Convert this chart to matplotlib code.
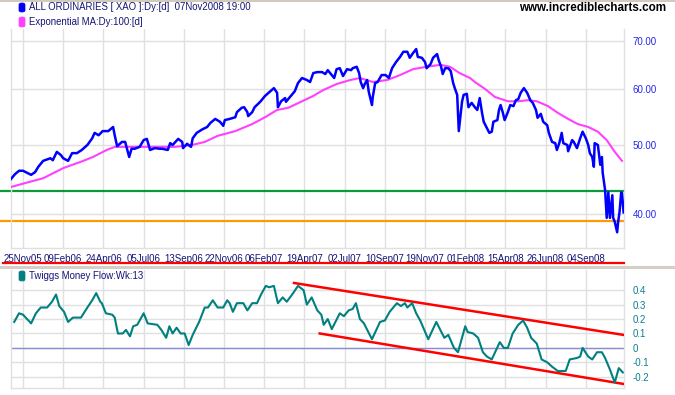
import matplotlib
matplotlib.use("Agg")
import matplotlib.pyplot as plt
from matplotlib.lines import Line2D
from matplotlib.patches import FancyBboxPatch

# ---------------- data ----------------
tick_days = [15, 65, 115, 165, 215, 265, 315, 365, 415, 465, 515, 565, 615, 665, 715]
tick_labels = ["25Nov05", "09Feb06", "24Apr06", "05Jul06", "13Sep06", "22Nov06",
               "06Feb07", "19Apr07", "02Jul07", "10Sep07", "19Nov07", "01Feb08",
               "15Apr08", "26Jun08", "04Sep08"]

price_days = [0, 5, 10, 15, 20, 25, 30, 34, 40, 49, 52, 57, 62, 65, 71, 76, 82, 88, 95, 101,
              104, 109, 114, 121, 127, 129, 132, 138, 142, 147, 150, 154, 160, 165, 169, 173,
              179, 185, 188, 195, 198, 201, 208, 213, 214, 219, 224, 226, 231, 238, 244, 248,
              254, 260, 264, 266, 272, 279, 281, 287, 290, 294, 295, 300, 303, 310, 316, 322,
              327, 331, 332, 336, 341, 342, 347, 353, 357, 362, 368, 372, 376, 381, 387, 391,
              394, 399, 402, 405, 409, 413, 418, 423, 425, 430, 433, 435, 438, 440, 443, 445,
              449, 450, 453, 456, 461, 466, 470, 474, 479, 484, 488, 493, 496, 500, 504, 506,
              511, 515, 517, 522, 525, 530, 532, 535, 537, 540, 544, 547, 550, 552, 555, 556,
              557, 561, 563, 567, 569, 573, 577, 580, 583, 586, 588, 592, 595, 598, 600, 605,
              607, 609, 612, 614, 618, 621, 625, 628, 631, 634, 638, 642, 646, 649, 653, 655,
              659, 662, 667, 669, 673, 677, 679, 682, 685, 687, 692, 693, 698, 700, 704, 708,
              711, 715, 718, 720, 723, 725, 726, 730, 733, 735, 736, 739, 741, 743, 745, 748,
              749, 751, 754, 755, 757, 759, 760, 762]
price_vals = [44.8, 45.5, 46.0, 46.0, 45.7, 45.4, 45.8, 46.6, 47.5, 47.9, 47.6, 48.9, 48.4,
              47.9, 47.5, 48.7, 48.7, 49.2, 50.0, 51.1, 52.0, 51.6, 52.3, 52.3, 53.0, 51.6,
              49.8, 50.5, 50.5, 48.1, 49.4, 49.4, 49.7, 50.8, 51.0, 49.2, 49.5, 49.4, 49.4,
              49.2, 50.3, 50.0, 51.0, 50.5, 49.5, 50.2, 49.7, 51.1, 52.0, 52.6, 53.0, 53.7,
              54.4, 53.9, 53.2, 54.2, 54.4, 54.7, 55.6, 56.4, 56.5, 55.6, 54.9, 55.6, 56.5,
              57.5, 58.6, 59.4, 60.1, 59.2, 56.5, 57.6, 58.2, 57.5, 58.4, 59.5, 61.1, 62.1,
              61.7, 61.3, 63.1, 63.3, 63.3, 62.9, 63.7, 62.7, 62.1, 63.9, 64.1, 62.5, 63.9,
              63.7, 64.1, 64.4, 63.1, 61.3, 60.1, 60.9, 61.7, 59.4, 56.9, 58.4, 61.1, 61.3,
              62.7, 62.7, 62.1, 64.1, 65.4, 66.5, 67.6, 67.6, 66.3, 67.3, 68.2, 66.5, 66.3,
              65.4, 64.1, 65.0, 66.3, 67.1, 65.8, 64.4, 62.9, 64.1, 64.1, 63.5, 61.1, 60.1,
              58.8, 55.6, 52.3, 57.5, 58.8, 59.0, 56.5, 57.3, 56.5, 56.0, 58.2, 55.4, 53.9,
              52.8, 52.0, 52.2, 53.9, 54.2, 56.0, 56.9, 55.4, 54.2, 55.6, 56.9, 56.7, 57.8,
              58.0, 59.2, 60.1, 59.2, 57.8, 57.3, 56.0, 54.6, 55.3, 53.9, 53.3, 52.0, 50.5,
              50.3, 49.2, 50.3, 52.0, 50.3, 50.0, 49.0, 50.8, 50.5, 49.5, 51.1, 52.2, 51.1,
              50.0, 48.7, 48.1, 46.6, 50.3, 50.0, 46.9, 48.1, 45.7, 43.2, 39.5, 42.9, 39.5,
              42.5, 39.5, 39.0, 37.7, 38.8, 40.3, 42.9, 42.8, 40.2]

ma_days = [0, 27, 40, 65, 90, 102, 119, 129, 152, 185, 204, 225, 241, 257, 279, 300, 316,
           331, 345, 362, 376, 388, 405, 422, 434, 450, 468, 484, 500, 517, 534, 546, 558,
           571, 577, 590, 602, 618, 631, 643, 654, 668, 680, 693, 705, 718, 730, 741, 751, 760]
ma_vals = [43.65, 44.5, 44.9, 46.4, 47.5, 48.1, 49.2, 49.7, 49.7, 49.7, 49.7, 50.0, 50.5,
           51.5, 52.3, 53.5, 54.7, 56.0, 56.4, 57.6, 58.6, 59.7, 60.9, 61.7, 62.1, 61.3,
           61.7, 62.7, 63.9, 64.4, 64.8, 64.4, 63.1, 62.1, 61.3, 59.9, 58.4, 57.6, 57.6,
           57.8, 57.6, 56.7, 55.5, 54.4, 53.5, 53.0, 52.2, 50.8, 48.9, 47.5]

green_level = 43.1
orange_level = 39.1

tmf_days = [4, 10, 15, 25, 31, 37, 45, 51, 56, 60, 66, 71, 77, 87, 95, 101, 106, 111, 113,
            118, 126, 129, 133, 139, 143, 148, 152, 157, 165, 170, 182, 187, 193, 197, 201,
            206, 211, 216, 221, 226, 234, 241, 245, 251, 257, 264, 269, 272, 276, 281, 289,
            294, 300, 306, 311, 317, 321, 327, 332, 338, 343, 351, 357, 364, 368, 374, 381,
            386, 389, 394, 399, 409, 414, 420, 425, 429, 434, 439, 449, 459, 465, 471, 480,
            485, 490, 493, 499, 504, 509, 519, 529, 539, 544, 551, 556, 565, 568, 575, 581,
            587, 592, 598, 608, 613, 618, 624, 631, 637, 642, 647, 654, 660, 667, 673, 680,
            690, 695, 704, 708, 711, 718, 723, 729, 735, 739, 745, 751, 756, 761]
tmf_vals = [0.18, 0.24, 0.23, 0.17, 0.24, 0.28, 0.28, 0.32, 0.37, 0.29, 0.25, 0.18, 0.21,
            0.21, 0.28, 0.33, 0.38, 0.32, 0.31, 0.24, 0.23, 0.21, 0.10, 0.10, 0.125, 0.08,
            0.15, 0.16, 0.24, 0.17, 0.16, 0.125, 0.07, 0.15, 0.10, 0.14, 0.10, 0.10, 0.02,
            0.09, 0.18, 0.28, 0.28, 0.33, 0.28, 0.28, 0.33, 0.31, 0.25, 0.31, 0.31, 0.26,
            0.31, 0.31, 0.37, 0.43, 0.42, 0.43, 0.31, 0.35, 0.32, 0.38, 0.43, 0.40, 0.30,
            0.35, 0.26, 0.23, 0.16, 0.20, 0.13, 0.24, 0.22, 0.26, 0.27, 0.31, 0.20, 0.17,
            0.06, 0.18, 0.19, 0.25, 0.31, 0.29, 0.31, 0.28, 0.31, 0.24, 0.19, 0.06, 0.18,
            0.07, 0.09, 0.00, -0.03, 0.15, 0.11, 0.10, 0.07, -0.03, -0.06, -0.08, 0.04,
            0.00, 0.00, 0.10, 0.16, 0.19, 0.14, 0.07, 0.03, -0.08, -0.10, -0.13, -0.16,
            -0.16, -0.08, -0.07, -0.06, 0.00, -0.06, -0.08, -0.03, -0.03, -0.07, -0.15,
            -0.24, -0.14, -0.17]

upper_trend_days = [352, 762]
upper_trend_vals = [0.45, 0.09]
lower_trend_days = [384, 762]
lower_trend_vals = [0.10, -0.25]

price_ticks = [40, 50, 60, 70]
price_tick_labels = ["40.00", "50.00", "60.00", "70.00"]
tmf_ticks = [0.4, 0.3, 0.2, 0.1, 0.0, -0.1, -0.2]
tmf_tick_labels = ["0.4", "0.3", "0.2", "0.1", "0", "-0.1", "-0.2"]

# ---------------- figure ----------------
W, H = 675, 395
fig = plt.figure(figsize=(W / 100, H / 100), dpi=100, facecolor="white")
plt.rcParams["font.family"] = ["Liberation Sans", "DejaVu Sans"]

def fx(px):
    return px / W

def fy(py):
    return 1 - py / H

XMAX = 762.5
grid_c = "#e0e0e0"
navy = "#141478"

ax1 = fig.add_axes([fx(11), fy(248), fx(624) - fx(11), fy(29) - fy(248)])
ax2 = fig.add_axes([fx(11), fy(388), fx(624) - fx(11), fy(270) - fy(388)])

for ax in (ax1, ax2):
    ax.set_xlim(0, XMAX)
    for s in ax.spines.values():
        s.set_color(grid_c)
        s.set_linewidth(1)
    ax.spines["top"].set_visible(False)
    ax.set_xticks(tick_days)
    ax.tick_params(axis="both", length=0)
    ax.yaxis.tick_right()
    ax.grid(True, color=grid_c, linewidth=1)
    ax.set_axisbelow(True)

# price panel
ax1.set_yscale("log")
ax1.set_ylim(35.83, 72.77)
ax1.set_yticks(price_ticks)
ax1.set_yticklabels(price_tick_labels)
ax1.yaxis.set_minor_locator(matplotlib.ticker.NullLocator())
ax1.tick_params(axis="y", pad=6, labelsize=7, labelcolor="#2828f0")
ax1.set_xticklabels(tick_labels)
ax1.tick_params(axis="x", pad=4, labelsize=7, labelcolor=navy)

ax1.axhline(green_level, xmin=-0.016, xmax=1.0, color="#0a9a3a", lw=1.6, clip_on=False, zorder=2)
ax1.axhline(orange_level, xmin=-0.016, xmax=1.0, color="#ff9900", lw=1.6, clip_on=False, zorder=2)
ax1.plot(ma_days, ma_vals, color="#ff40ff", lw=1.5, zorder=3)
ax1.plot(price_days, price_vals, color="#0000ff", lw=1.8, zorder=4)

# money flow panel
ax2.set_ylim(-0.278, 0.54)
ax2.set_yticks(tmf_ticks)
ax2.set_yticklabels(tmf_tick_labels)
ax2.tick_params(axis="y", pad=6, labelsize=7, labelcolor="#0a8090")
ax2.set_xticklabels([])
ax2.axhline(0, color="#8c8cd0", lw=1, zorder=2)
ax2.plot(upper_trend_days, upper_trend_vals, color="#ff0000", lw=1.8, zorder=3)
ax2.plot(lower_trend_days, lower_trend_vals, color="#ff0000", lw=1.8, zorder=3)
ax2.plot(tmf_days, tmf_vals, color="#008080", lw=1.5, zorder=4)

# decorations
fig.add_artist(Line2D([0, 1], [fy(0.5), fy(0.5)], color="#c8c0b0", lw=1.2))
fig.add_artist(Line2D([0, 1], [fy(267), fy(267)], color="#d4d0c8", lw=2.2))
fig.add_artist(Line2D([fx(3), fx(624)], [fy(263), fy(263)], color="#ff0000", lw=1.6))

def legend_box(x, y0, y1, color):
    fig.add_artist(FancyBboxPatch((fx(x), fy(y1)), fx(6), fy(y0) - fy(y1),
                                  boxstyle="round,pad=0,rounding_size=0.004",
                                  facecolor=color, edgecolor=color, lw=0.5))

legend_box(19, 3, 12, "#0000ff")
legend_box(19, 17, 27, "#ff40ff")
legend_box(19, 271, 281, "#008080")

fig.text(fx(29), fy(7.5), "ALL ORDINARIES [ XAO ]:Dy:[d]  07Nov2008 19:00",
         fontsize=6.9, color=navy, va="center", ha="left")
fig.text(fx(29), fy(22), "Exponential MA:Dy:100:[d]",
         fontsize=6.9, color=navy, va="center", ha="left")
fig.text(fx(29), fy(276), "Twiggs Money Flow:Wk:13",
         fontsize=6.9, color=navy, va="center", ha="left")
fig.text(fx(666), fy(8), "www.incrediblecharts.com",
         fontsize=8.4, fontweight="bold", color="black", va="center", ha="right")

fig.savefig("out.png", dpi=100, facecolor="white")
